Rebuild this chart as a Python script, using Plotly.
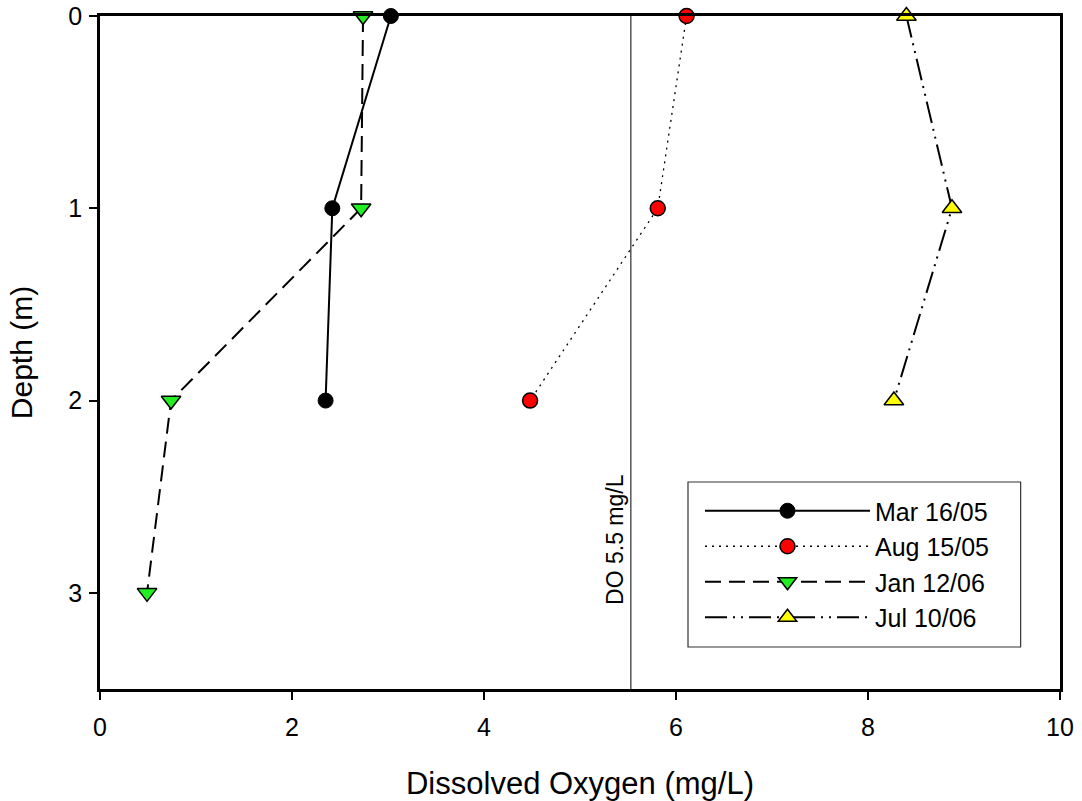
import plotly.graph_objects as go

# Data
depth_mar = [0, 1, 2]
do_mar = [3.03, 2.42, 2.35]
depth_aug = [0, 1, 2]
do_aug = [6.11, 5.81, 4.48]
depth_jan = [0, 1, 2, 3]
do_jan = [2.74, 2.72, 0.74, 0.49]
depth_jul = [0, 1, 2]
do_jul = [8.40, 8.875, 8.27]
names = ["Mar 16/05", "Aug 15/05", "Jan 12/06", "Jul 10/06"]
do_threshold = 5.53
threshold_label = "DO 5.5 mg/L"
x_ticks = [0, 2, 4, 6, 8, 10]
y_ticks = [0, 1, 2, 3]

FONT = "Liberation Sans, Arial, sans-serif"

fig = go.Figure()
fig.add_trace(go.Scatter(
    x=do_mar, y=depth_mar, name=names[0], mode="lines+markers", cliponaxis=False,
    line=dict(color="black", width=2),
    marker=dict(symbol="circle", size=15, color="black", line=dict(color="black", width=1))))
fig.add_trace(go.Scatter(
    x=do_aug, y=depth_aug, name=names[1], mode="lines+markers", cliponaxis=False,
    line=dict(color="black", width=1.3, dash="2px,5px"),
    marker=dict(symbol="circle", size=15, color="#ff0000", line=dict(color="black", width=1.5))))
fig.add_trace(go.Scatter(
    x=do_jan, y=depth_jan, name=names[2], mode="lines+markers", cliponaxis=False,
    line=dict(color="black", width=2, dash="16px,8px"),
    marker=dict(symbol="triangle-down", size=17, color="#22ee22", line=dict(color="black", width=1.5))))
fig.add_trace(go.Scatter(
    x=do_jul, y=depth_jul, name=names[3], mode="lines+markers", cliponaxis=False,
    line=dict(color="black", width=2, dash="22px,6px,2px,6px,2px,6px"),
    marker=dict(symbol="triangle-up", size=17, color="#ffff00", line=dict(color="black", width=1.5))))

fig.add_vline(x=do_threshold, line=dict(color="black", width=1), layer="below")
fig.add_annotation(x=do_threshold, y=2.72, xref="x", yref="y", text=threshold_label,
                   textangle=-90, showarrow=False, xanchor="right", yanchor="middle",
                   xshift=-1, font=dict(family=FONT, size=23, color="black"))

# legend frame (decoration)
fig.add_shape(type="rect", xref="paper", yref="paper",
              x0=0.6125, x1=0.959, y0=0.0624, y1=0.3076,
              line=dict(color="#333333", width=1.2), fillcolor="white", layer="below")

axis_common = dict(showline=True, linecolor="black", linewidth=2.5, mirror=True,
                   ticks="outside", ticklen=8, tickwidth=2, tickcolor="black",
                   showgrid=False, zeroline=False, automargin=False,
                   tickfont=dict(family=FONT, size=25, color="black"))

fig.update_layout(
    width=1082, height=801,
    margin=dict(l=100, r=22, t=16, b=112),
    paper_bgcolor="white", plot_bgcolor="rgba(0,0,0,0)",
    font=dict(family=FONT, color="black"),
    xaxis=dict(range=[0, 10], tickvals=x_ticks, ticklabelstandoff=6,
               title=dict(text="Dissolved Oxygen (mg/L)", font=dict(family=FONT, size=31), standoff=37),
               **axis_common),
    yaxis=dict(range=[3.5, 0], tickvals=y_ticks, ticklabelstandoff=2,
               title=dict(text="Depth (m)", font=dict(family=FONT, size=30), standoff=27),
               **axis_common),
    legend=dict(x=(700 - 100) / 960, y=1 - (564 - 16) / 673, xanchor="left", yanchor="middle",
                borderwidth=0, bgcolor="rgba(0,0,0,0)",
                font=dict(family=FONT, size=25, color="black"),
                itemwidth=165, tracegroupgap=0),
    showlegend=True,
)

fig.write_html("out.html", config={"displayModeBar": False},
               post_script="document.body.style.margin='0';document.body.style.overflow='hidden';")
